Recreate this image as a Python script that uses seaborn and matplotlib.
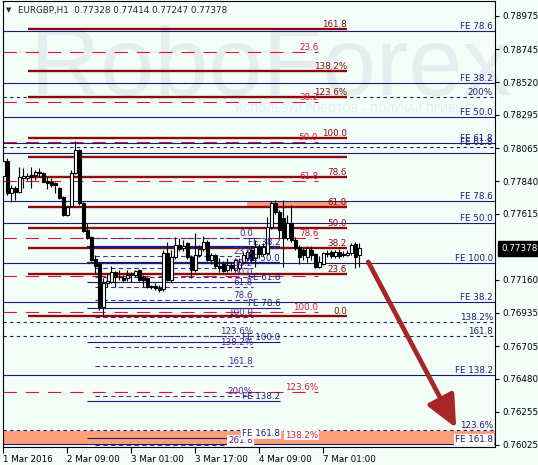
import matplotlib
matplotlib.use('Agg')
import matplotlib.pyplot as plt
import matplotlib.transforms as mtransforms
from matplotlib.patches import Rectangle
import numpy as np
import pandas as pd
import seaborn as sns

# EURGBP H1 candles, bar 0 = 1 Mar 17:00 (prices in 1e-5)
opens = [77875, 77978, 77758, 77792, 77765, 77861, 77861, 77882, 77882, 77902,
         77895, 77840, 77834, 77827, 77792, 77730, 77607, 77668, 77895, 78053,
         77689, 77503, 77455, 77304, 77270, 76974, 77139, 77146, 77215, 77180,
         77173, 77173, 77201, 77194, 77228, 77180, 77173, 77119, 77119, 77105,
         77098, 77345, 77160, 77318, 77400, 77380, 77414, 77318, 77228, 77332,
         77373, 77421, 77297, 77332, 77256, 77270, 77228, 77263, 77228, 77242,
         77284, 77311, 77366, 77311, 77386, 77338, 77345, 77524, 77689, 77627,
         77586, 77449, 77552, 77435, 77386, 77366, 77318, 77366, 77338, 77249,
         77270, 77338, 77352, 77325, 77352, 77338, 77332, 77345, 77407, 77328]
highs = [78040, 77999, 77813, 77806, 77937, 77930, 77895, 77937, 77916, 77930,
         77902, 77868, 77861, 77834, 77799, 77737, 77668, 77916, 78116, 78060,
         77696, 77552, 77462, 77332, 77284, 77173, 77208, 77256, 77222, 77228,
         77194, 77228, 77215, 77228, 77235, 77194, 77180, 77125, 77139, 77125,
         77366, 77421, 77366, 77455, 77449, 77435, 77421, 77332, 77483, 77400,
         77462, 77435, 77345, 77338, 77311, 77290, 77311, 77284, 77311, 77311,
         77352, 77366, 77393, 77435, 77407, 77414, 77593, 77703, 77710, 77641,
         77710, 77607, 77675, 77455, 77400, 77380, 77393, 77393, 77345, 77325,
         77352, 77366, 77366, 77366, 77373, 77359, 77366, 77414, 77421, 77414]
lows = [77861, 77744, 77696, 77710, 77758, 77792, 77847, 77792, 77847, 77868,
        77834, 77785, 77799, 77758, 77717, 77600, 77600, 77662, 77889, 77675,
        77490, 77442, 77290, 77208, 76953, 76912, 77112, 77139, 77112, 77160,
        77146, 77153, 77146, 77180, 77153, 77112, 77105, 77098, 77091, 77077,
        77084, 77153, 77146, 77304, 77359, 77359, 77304, 77173, 77215, 77318,
        77359, 77290, 77270, 77242, 77215, 77215, 77215, 77222, 77215, 77222,
        77270, 77290, 77284, 77249, 77311, 77325, 77332, 77510, 77614, 77449,
        77249, 77435, 77421, 77366, 77270, 77297, 77284, 77297, 77242, 77242,
        77263, 77318, 77311, 77311, 77311, 77318, 77325, 77332, 77242, 77247]
closes = [77978, 77758, 77792, 77765, 77868, 77875, 77875, 77868, 77902, 77895,
          77834, 77827, 77813, 77813, 77724, 77607, 77662, 77895, 78053, 77689,
          77497, 77449, 77297, 77256, 76974, 77139, 77153, 77215, 77180, 77177,
          77160, 77194, 77194, 77222, 77160, 77160, 77112, 77112, 77105, 77091,
          77345, 77160, 77318, 77400, 77373, 77393, 77318, 77228, 77332, 77373,
          77421, 77297, 77332, 77256, 77242, 77222, 77263, 77242, 77297, 77284,
          77332, 77352, 77297, 77386, 77338, 77386, 77524, 77689, 77627, 77503,
          77449, 77552, 77435, 77380, 77318, 77332, 77380, 77332, 77249, 77284,
          77345, 77345, 77325, 77352, 77325, 77332, 77345, 77400, 77318, 77378]

# fibo retracement (dark red, thick)
fr_prices = [0.78886, 0.78597, 0.78418, 0.78136, 0.78005, 0.77868, 0.77662,
             0.77517, 0.77380, 0.77201, 0.76912]
fr_labels = ['161.8', '138.2%', '123.6%', '100.0', '', '78.6', '61.8',
             '50.0', '38.2', '23.6', '0.0']
# fibo retracement (crimson, dashed)
fc_prices = [0.78727, 0.78384, 0.78109, 0.77840, 0.77449, 0.77187, 0.76940,
             0.76390, 0.76060]
fc_labels = ['23.6', '38.2', '50.0', '61.8', '78.6', '', '100.0', '123.6%', '138.2%']
# fibo expansion, full width solid (navy)
fe_prices = [0.78872, 0.78514, 0.78280, 0.78102, 0.78033, 0.77703, 0.77552,
             0.77277, 0.77008, 0.76507, 0.76032]
fe_labels = ['FE 78.6', 'FE 38.2', 'FE 50.0', 'FE 61.8', '', 'FE 78.6',
             'FE 50.0', 'FE 100.0', 'FE 38.2', 'FE 138.2', 'FE 161.8']
# full width dashed (navy)
fd_prices = [0.78418, 0.78074, 0.76871, 0.76775, 0.76128]
fd_labels = ['200%', 'FE 61.8', '138.2%', '161.8', '123.6%']
# fibo in the middle (purple, dashed)
fp_prices = [0.77449, 0.77325, 0.77242, 0.77180, 0.77112, 0.77022, 0.76905,
             0.76775, 0.76699, 0.76568, 0.76362, 0.76025]
fp_labels = ['0.0', '23.6', '38.2', '50.0', '61.8', '78.6', '100.0',
             '123.6%', '138.2%', '161.8', '200%', '261.8']
# second expansion (navy, short)
fb_prices = [0.77386, 0.77277, 0.77146, 0.76967, 0.76733, 0.76328, 0.76073]
fb_labels = ['FE 38.2', 'FE 50.0', 'FE 61.8', 'FE 78.6', 'FE 100.0',
             'FE 138.2', 'FE 161.8']

# salmon zones (top, bottom)
zone_top = [0.77703, 0.76121]
zone_bottom = [0.77668, 0.76032]

last_price = 0.77378
arrow_from = (91.2, 0.77284)
arrow_to = (113.2, 0.76142)

yticks = [0.78975, 0.78745, 0.78520, 0.78295, 0.78065, 0.77840, 0.77615,
          0.77160, 0.76935, 0.76705, 0.76480, 0.76255, 0.76025]
xtick_bars = [0, 16, 32, 48, 64, 80]
xtick_labels = ['1 Mar 2016', '2 Mar 09:00', '3 Mar 01:00', '3 Mar 17:00',
                '4 Mar 09:00', '7 Mar 01:00']

BG = '#f4fef8'
MAROON = '#8b0a0a'
CRIMSON = '#dc143c'
NAVY = '#1c1c78'
PURPLE = '#55249a'
WMARK = '#e4eeee'
FS = 6.3

sns.set_theme(style='white')
plt.rcParams['font.family'] = ['DejaVu Sans']

df = pd.DataFrame({'open': opens, 'high': highs, 'low': lows, 'close': closes}) / 1e5
df['bar'] = np.arange(len(df))
df['bull'] = df['close'] >= df['open']

fig = plt.figure(figsize=(5.38, 4.65), dpi=100, facecolor=BG)
ax = fig.add_axes([3 / 538, 18 / 465, 492 / 538, 446 / 465], facecolor=BG)
ax.set_xlim(-0.1, 122.9)
ax.set_ylim(0.76011, 0.79078)

# watermark
ax.text(0.055, 0.789, 'RoboForex', transform=ax.transAxes, fontsize=70,
        family='Liberation Sans', color=WMARK, zorder=0.5, va='baseline')
ax.text(0.472, 0.752, 'ИСПОЛЬЗУЙ РОБОТОВ – ПОЛУЧАЙ ПРИБЫЛЬ', transform=ax.transAxes,
        fontsize=7.6, color=WMARK, zorder=0.5, va='baseline')

# zones
ax.add_patch(Rectangle((61, zone_bottom[0]), 25, zone_top[0] - zone_bottom[0],
                       facecolor='#ffa07a', edgecolor='none', zorder=1.5))
ax.add_patch(Rectangle((-0.1, zone_bottom[1]), 123, zone_top[1] - zone_bottom[1],
                       facecolor='#ffa07a', edgecolor='none', zorder=1.5))


def put_labels(prices, labels, x, color, boxed=()):
    for p, lab in zip(prices, labels):
        if not lab:
            continue
        kw = {}
        if (lab, p) in boxed:
            kw['bbox'] = dict(facecolor='white', edgecolor='none', pad=0.6)
        ax.text(x, p + 0.00002, lab, ha='right', va='bottom', fontsize=FS,
                color=color, zorder=6, **kw)


# crimson dashed
ax.hlines(fc_prices, -0.1, 78.7, colors=CRIMSON, lw=0.8, linestyles=(0, (12, 8)), zorder=1)
put_labels(fc_prices, fc_labels, 78.7, CRIMSON, boxed={('138.2%', 0.76060)})

# navy full width
for p in fe_prices:
    ax.axhline(p, color=NAVY, lw=0.8, zorder=2)
put_labels(fe_prices, fe_labels, 122.4, NAVY, boxed={('FE 161.8', 0.76032)})
for p in fd_prices:
    ax.axhline(p, color=NAVY, lw=0.8, ls=(0, (3, 3)), zorder=2)
put_labels(fd_prices, fd_labels, 122.4, NAVY)

# purple
ax.hlines(fp_prices, 22.9, 62.4, colors=PURPLE, lw=0.8, linestyles=(0, (4, 3)), zorder=2)
put_labels(fp_prices, fp_labels, 62.4, PURPLE, boxed={('261.8', 0.76025)})

# maroon retracement
ax.hlines(fr_prices, 6.2, 85.9, colors=MAROON, lw=1.7, zorder=2.5)
put_labels(fr_prices, fr_labels, 85.9, MAROON)

# second expansion
ax.hlines(fb_prices[:2], 21, 69.2, colors=NAVY, lw=1.6, zorder=2.6)
ax.hlines(fb_prices[2:], 21, 69.2, colors=NAVY, lw=0.8, zorder=2.6)
put_labels(fb_prices, fb_labels, 69.2, NAVY, boxed={('FE 161.8', 0.76073)})

# candles
ax.vlines(df['bar'], df['low'], df['high'], color='black', lw=0.8, zorder=5)
body_lo = df[['open', 'close']].min(axis=1)
body_h = (df['close'] - df['open']).abs().clip(lower=0.000012)
ax.bar(df['bar'], body_h, bottom=body_lo, width=0.66,
       color=np.where(df['bull'], 'white', 'black'), edgecolor='black',
       linewidth=0.8, zorder=5.5)

# arrow
ax.annotate('', xy=arrow_to, xytext=arrow_from, zorder=7,
            arrowprops=dict(arrowstyle='-|>,head_length=0.65,head_width=0.3',
                            color='#a82626', lw=3.4, mutation_scale=30,
                            shrinkA=0, shrinkB=0))

# title
ax.text(0.007, 0.979, '▼', transform=ax.transAxes, fontsize=5, va='center', zorder=8)
ax.text(0.03, 0.979, 'EURGBP,H1  0.77328 0.77414 0.77247 0.77378',
        transform=ax.transAxes, fontsize=FS, va='center', zorder=8)

# axes
ax.yaxis.tick_right()
ax.set_yticks(yticks)
ax.set_yticklabels([f'{v:.5f}' for v in yticks])
ax.set_xticks(xtick_bars)
ax.set_xticklabels(xtick_labels, ha='left')
ax.tick_params(axis='y', direction='out', length=3, width=0.8, labelsize=FS,
               pad=2, colors='black', right=True, left=False)
ax.tick_params(axis='x', direction='out', length=4, width=0.8, labelsize=FS,
               pad=2, colors='black', bottom=True)
for s in ax.spines.values():
    s.set_color('black')
    s.set_linewidth(0.8)
ax.grid(False)

trans = mtransforms.blended_transform_factory(ax.transAxes, ax.transData)
ax.text(1.012, last_price, '0.77378', transform=trans, fontsize=FS, color='white',
        va='center', ha='left', zorder=9,
        bbox=dict(facecolor='black', edgecolor='black', pad=2.2))

fig.savefig('out.png', dpi=100, facecolor=BG)
